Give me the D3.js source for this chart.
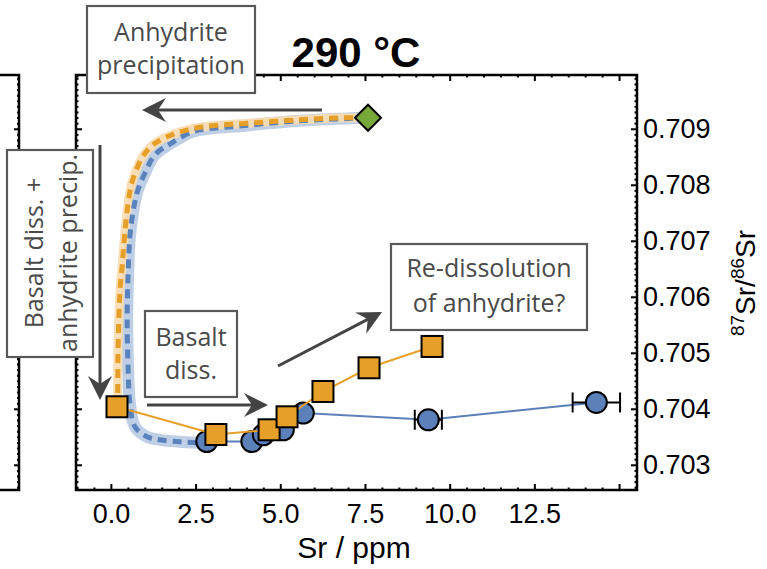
<!DOCTYPE html>
<html><head><meta charset="utf-8">
<script src="https://cdn.jsdelivr.net/npm/d3@7/dist/d3.min.js"></script>
<style>body{margin:0;background:#fff}</style>
</head><body>
<svg id="c" width="767" height="569"></svg>
<script>
// ---- data ----
const xTickValues = [0, 2.5, 5, 7.5, 10, 12.5, 15];
const xTickLabels = ["0.0", "2.5", "5.0", "7.5", "10.0", "12.5", ""];
const yTickValues = [0.703, 0.704, 0.705, 0.706, 0.707, 0.708, 0.709];
const yTickLabels = ["0.703", "0.704", "0.705", "0.706", "0.707", "0.708", "0.709"];

// measured fluid (blue circles)
const circleSr = [2.83, 4.16, 4.50, 5.09, 5.68, 9.37, 14.33];
const circleRatio = [0.703416, 0.703416, 0.703536, 0.703625, 0.703923, 0.703804, 0.704113];
const circleSrErr = [0, 0, 0, 0, 0, 0.4, 0.7];

// corrected fluid (orange squares)
const squareSr = [0.18, 3.10, 4.67, 5.20, 6.26, 7.62, 9.48];
const squareRatio = [0.704036, 0.703541, 0.703625, 0.703857, 0.704309, 0.704732, 0.705113];

// seawater starting point (green diamond)
const seawaterSr = [7.59];
const seawaterRatio = [0.709196];

// model curve (orange)
const modelOrangeSr = [7.59, 6.83, 5.59, 4.26, 2.99, 2.40, 1.80, 1.24, 0.92, 0.62, 0.51, 0.42, 0.33, 0.27, 0.21, 0.20, 0.18];
const modelOrangeRatio = [0.709196, 0.709196, 0.709161, 0.709107, 0.709054, 0.709, 0.708893, 0.708714, 0.708482, 0.708036, 0.707679, 0.707196, 0.706536, 0.706125, 0.705, 0.704286, 0.704036];

// model curve (blue)
const modelBlueSr = [7.59, 5.59, 3.58, 2.87, 2.40, 1.80, 1.30, 1.01, 0.77, 0.65, 0.56, 0.51, 0.48, 0.51, 0.56, 0.71, 1.07, 1.45, 2.04, 2.54];
const modelBlueRatio = [0.709196, 0.709143, 0.709036, 0.709, 0.708946, 0.70875, 0.708536, 0.708214, 0.707857, 0.7075, 0.707071, 0.706429, 0.705589, 0.704696, 0.704107, 0.703679, 0.7035, 0.703446, 0.703411, 0.703393];

// ---- layout ----
const L = 76, R = 637, T = 75, B = 490;
const svg = d3.select("#c");
const x = d3.scaleLinear().domain([-1.03, 15.53]).range([L, R]);
const y = d3.scaleLinear().domain([0.70255, 0.70996]).range([B, T]);

const axisFont = "'Liberation Sans', Arial, sans-serif";
const annFont = "'Open Sans', 'Noto Sans', sans-serif";

const xMinor = d3.range(-1, 15.51, 0.5).filter(v => Math.abs(v / 2.5 - Math.round(v / 2.5)) > 1e-6);
const yMinor = d3.range(0.7026, 0.70996, 0.0001).filter(v => Math.abs(v * 1000 - Math.round(v * 1000)) > 1e-6);

function styleAxis(g) {
  g.select(".domain").remove();
  g.selectAll("line").attr("stroke", "#000").attr("stroke-width", 2);
  g.selectAll("text").attr("font-family", axisFont).attr("font-size", 27).attr("fill", "#000");
}

// partial left panel frame
const lp = svg.append("g");
lp.append("path").attr("d", `M0,${T}H19V${B}H0`).attr("fill", "none").attr("stroke", "#000").attr("stroke-width", 2.5);
lp.append("g").attr("transform", "translate(19,0)")
  .call(d3.axisLeft(y).tickValues(yTickValues).tickSize(5).tickFormat(""))
  .call(styleAxis);
lp.append("g").attr("transform", "translate(19,0)")
  .call(d3.axisLeft(y).tickValues(yMinor).tickSize(2).tickFormat(""))
  .call(styleAxis);

// main axes
svg.append("g").attr("transform", `translate(0,${B})`)
  .call(d3.axisBottom(x).tickValues(xTickValues).tickFormat((d, i) => xTickLabels[i]).tickSize(-6).tickPadding(14))
  .call(styleAxis);
svg.append("g").attr("transform", `translate(0,${B})`)
  .call(d3.axisBottom(x).tickValues(xMinor).tickFormat("").tickSize(-2.5))
  .call(styleAxis);
svg.append("g").attr("transform", `translate(0,${T})`)
  .call(d3.axisTop(x).tickValues(xTickValues).tickFormat("").tickSize(-6))
  .call(styleAxis);
svg.append("g").attr("transform", `translate(0,${T})`)
  .call(d3.axisTop(x).tickValues(xMinor).tickFormat("").tickSize(-2.5))
  .call(styleAxis);
svg.append("g").attr("transform", `translate(${R},0)`)
  .call(d3.axisRight(y).tickValues(yTickValues).tickFormat((d, i) => yTickLabels[i]).tickSize(-6).tickPadding(6))
  .call(styleAxis);
svg.append("g").attr("transform", `translate(${R},0)`)
  .call(d3.axisRight(y).tickValues(yMinor).tickFormat("").tickSize(-2.5))
  .call(styleAxis);
svg.append("g").attr("transform", `translate(${L},0)`)
  .call(d3.axisLeft(y).tickValues(yTickValues).tickFormat("").tickSize(-6))
  .call(styleAxis);
svg.append("g").attr("transform", `translate(${L},0)`)
  .call(d3.axisLeft(y).tickValues(yMinor).tickFormat("").tickSize(-2.5))
  .call(styleAxis);

svg.append("rect").attr("x", L).attr("y", T).attr("width", R - L).attr("height", B - T)
  .attr("fill", "none").attr("stroke", "#000").attr("stroke-width", 2.5);

// titles
svg.append("text").attr("x", 356).attr("y", 67).attr("text-anchor", "middle")
  .attr("font-family", axisFont).attr("font-weight", "bold").attr("font-size", 42).text("290 °C");
svg.append("text").attr("x", 354).attr("y", 558).attr("text-anchor", "middle")
  .attr("font-family", axisFont).attr("font-size", 30).text("Sr / ppm");
const yl = svg.append("text").attr("transform", "translate(755,283) rotate(-90)").attr("text-anchor", "middle")
  .attr("font-family", axisFont).attr("font-size", 28);
yl.append("tspan").attr("font-size", 19).attr("dy", -11).text("87");
yl.append("tspan").attr("dy", 11).text("Sr/");
yl.append("tspan").attr("font-size", 19).attr("dy", -11).text("86");
yl.append("tspan").attr("dy", 11).text("Sr");

// model curves
const lineGen = d3.line().x(d => x(d[0])).y(d => y(d[1])).curve(d3.curveCatmullRom.alpha(0.5));
const orangeModel = modelOrangeSr.map((v, i) => [v, modelOrangeRatio[i]]);
const blueModel = modelBlueSr.map((v, i) => [v, modelBlueRatio[i]]);

const plot = svg.append("g");
plot.append("path").attr("d", lineGen(blueModel)).attr("fill", "none")
  .attr("stroke", "#bfd0e6").attr("stroke-width", 12).attr("stroke-linecap", "round");
plot.append("path").attr("d", lineGen(orangeModel)).attr("fill", "none")
  .attr("stroke", "#f8dcb0").attr("stroke-width", 9).attr("stroke-opacity", 0.9).attr("stroke-linecap", "round");
plot.append("path").attr("d", lineGen(blueModel)).attr("fill", "none")
  .attr("stroke", "#5a82bc").attr("stroke-width", 5).attr("stroke-dasharray", "9,6");
plot.append("path").attr("d", lineGen(orangeModel)).attr("fill", "none")
  .attr("stroke", "#e6a029").attr("stroke-width", 5).attr("stroke-dasharray", "9,6");

// measured lines & markers
const circles = circleSr.map((v, i) => ({ x: v, y: circleRatio[i], e: circleSrErr[i] }));
const squares = squareSr.map((v, i) => ({ x: v, y: squareRatio[i] }));
const pl = d3.line().x(d => x(d.x)).y(d => y(d.y));

plot.append("path").attr("d", pl(circles)).attr("fill", "none").attr("stroke", "#5b80ba").attr("stroke-width", 2);
// error bars
const eb = plot.append("g").selectAll("g").data(circles.filter(d => d.e > 0)).join("g");
eb.append("line").attr("x1", d => x(d.x - d.e)).attr("x2", d => x(d.x + d.e))
  .attr("y1", d => y(d.y)).attr("y2", d => y(d.y)).attr("stroke", "#000").attr("stroke-width", 2);
eb.append("line").attr("x1", d => x(d.x - d.e)).attr("x2", d => x(d.x - d.e))
  .attr("y1", d => y(d.y) - 10).attr("y2", d => y(d.y) + 10).attr("stroke", "#000").attr("stroke-width", 2);
eb.append("line").attr("x1", d => x(d.x + d.e)).attr("x2", d => x(d.x + d.e))
  .attr("y1", d => y(d.y) - 10).attr("y2", d => y(d.y) + 10).attr("stroke", "#000").attr("stroke-width", 2);
plot.append("g").selectAll("circle").data(circles).join("circle")
  .attr("cx", d => x(d.x)).attr("cy", d => y(d.y)).attr("r", 10.5)
  .attr("fill", "#5b80ba").attr("stroke", "#000").attr("stroke-width", 2);

plot.append("path").attr("d", pl(squares)).attr("fill", "none").attr("stroke", "#e6a029").attr("stroke-width", 2);
plot.append("g").selectAll("rect").data(squares).join("rect")
  .attr("x", d => x(d.x) - 10.5).attr("y", d => y(d.y) - 10.5).attr("width", 21).attr("height", 21)
  .attr("fill", "#e6a029").attr("stroke", "#000").attr("stroke-width", 2);

// diamond
plot.append("g").selectAll("path").data(seawaterSr.map((v, i) => ({ x: v, y: seawaterRatio[i] }))).join("path")
  .attr("d", d => { const cx = x(d.x), cy = y(d.y), s = 13; return `M${cx},${cy - s}L${cx + s},${cy}L${cx},${cy + s}L${cx - s},${cy}Z`; })
  .attr("fill", "#79a83a").attr("stroke", "#000").attr("stroke-width", 2);

// annotations
const ann = svg.append("g");
function arrow(x1, y1, x2, y2) {
  const a = Math.atan2(y2 - y1, x2 - x1), len = 24, hw = 12, notch = 8;
  const ux = Math.cos(a), uy = Math.sin(a), px = -uy, py = ux;
  ann.append("line").attr("x1", x1).attr("y1", y1).attr("x2", x2 - ux * notch).attr("y2", y2 - uy * notch)
    .attr("stroke", "#444").attr("stroke-width", 3);
  const bx = x2 - ux * len, by = y2 - uy * len;
  const nx = x2 - ux * (len - notch), ny = y2 - uy * (len - notch);
  ann.append("path").attr("d", `M${x2},${y2}L${bx + px * hw},${by + py * hw}L${nx},${ny}L${bx - px * hw},${by - py * hw}Z`)
    .attr("fill", "#444");
}
function box(x0, y0, w, h) {
  ann.append("rect").attr("x", x0).attr("y", y0).attr("width", w).attr("height", h)
    .attr("fill", "#fff").attr("stroke", "#595959").attr("stroke-width", 2.2);
}
function label(tx, ty, t, rot) {
  ann.append("text").attr("transform", `translate(${tx},${ty})` + (rot ? " rotate(-90)" : ""))
    .attr("text-anchor", "middle").attr("font-family", annFont).attr("font-size", 25).attr("fill", "#4a4a4a").text(t);
}
box(87, 6, 168, 87);
label(171, 41, "Anhydrite");
label(171, 74, "precipitation");
arrow(322, 110, 142, 110);

box(7, 150, 86, 207);
label(43, 253, "Basalt diss. +", true);
label(77, 253, "anhydrite precip.", true);
arrow(100, 145, 100, 400);

box(145, 311, 92, 86);
label(191, 346, "Basalt");
label(191, 379, "diss.");
arrow(147, 405, 268, 405);

box(391, 244, 196, 86);
label(489, 277, "Re-dissolution");
label(489, 312, "of anhydrite?");
arrow(278, 366, 382, 312);
</script>
</body></html>
